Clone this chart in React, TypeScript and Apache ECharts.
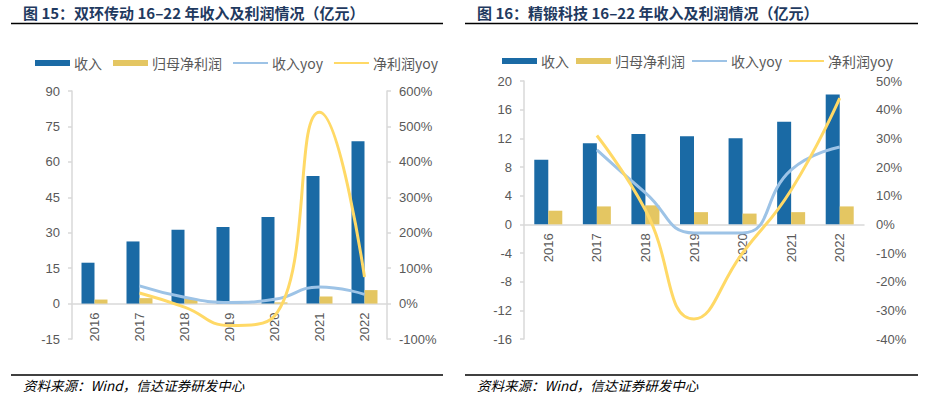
import React, { useEffect, useRef } from "react";
import * as echarts from "echarts";

const years = ["2016", "2017", "2018", "2019", "2020", "2021", "2022"];

// 双环传动
const shRevenue = [17.3, 26.3, 31.3, 32.4, 36.7, 54.0, 68.7];
const shProfit = [1.7, 2.3, 2.0, 0.8, 0.5, 3.0, 5.7];
const shRevYoy = [null, 50, 18, 3, 12, 47, 26];
const shProfitYoy = [null, 30, -10, -62, -35, 540, 75];

// 精锻科技
const jdRevenue = [9.0, 11.3, 12.6, 12.3, 12.0, 14.3, 18.1];
const jdProfit = [1.9, 2.5, 2.65, 1.7, 1.5, 1.7, 2.5];
const jdRevYoy = [null, 26, 11, -3, -3, 19, 27];
const jdProfitYoy = [null, 31, 5, -33, -10, 12, 44];

const seriesNames = ["收入", "归母净利润", "收入yoy", "净利润yoy"];
const sourceText = "资料来源：Wind，信达证券研发中心";

const C_BLUE = "#1A6AA5";
const C_GOLD = "#E4C662";
const C_LBLUE = "#9DC3E6";
const C_YELLOW = "#FFD966";
const C_AXIS = "#D9D9D9";
const C_LABEL = "#595959";
const NUM_FONT = "'Liberation Sans', Arial, sans-serif";
const CJK_FONT = "'Noto Sans CJK SC', sans-serif";
const LINE_ICON = "path://M0,0H35V2H0Z";

type Cfg = {
  title: string;
  titleX: number;
  ruleX1: number;
  ruleX2: number;
  legendLeft: number;
  legendTop: number;
  legendGap: number;
  grid: { left: number; top: number; width: number; height: number };
  barWidth: number;
  left: { min: number; max: number; interval: number };
  right: { min: number; max: number; interval: number };
  rightAxisLine: boolean;
  revenue: number[];
  profit: number[];
  revYoy: (number | null)[];
  profitYoy: (number | null)[];
};

function buildOption(c: Cfg) {
  // move the category axis up to where the left value axis crosses zero
  const zeroOffset = -(c.grid.height * (0 - c.left.min)) / (c.left.max - c.left.min);
  return {
    animation: false,
    legend: {
      left: c.legendLeft,
      top: c.legendTop,
      padding: 0,
      itemWidth: 35,
      itemHeight: 6,
      itemGap: c.legendGap,
      data: [
        { name: seriesNames[0], icon: "rect" },
        { name: seriesNames[1], icon: "rect" },
        { name: seriesNames[2], icon: LINE_ICON },
        { name: seriesNames[3], icon: LINE_ICON },
      ],
      textStyle: { color: C_LABEL, fontSize: 14, fontFamily: CJK_FONT, padding: [0, 0, 0, -1] },
    },
    grid: { ...c.grid, containLabel: false },
    xAxis: {
      type: "category",
      data: years,
      position: "bottom",
      offset: zeroOffset,
      axisLine: { onZero: false, lineStyle: { color: C_AXIS, width: 1.5 } },
      axisTick: { show: false },
      axisLabel: {
        rotate: 90,
        margin: 9,
        color: C_LABEL,
        fontSize: 13,
        fontFamily: NUM_FONT,
      },
    },
    yAxis: [
      {
        type: "value",
        min: c.left.min,
        max: c.left.max,
        interval: c.left.interval,
        axisLine: { show: true, lineStyle: { color: C_AXIS, width: 1.5 } },
        axisTick: { show: true, length: 4, lineStyle: { color: C_AXIS, width: 1.5 } },
        splitLine: { show: false },
        axisLabel: { color: C_LABEL, fontSize: 13, fontFamily: NUM_FONT, margin: 12 },
      },
      {
        type: "value",
        min: c.right.min,
        max: c.right.max,
        interval: c.right.interval,
        axisLine: { show: c.rightAxisLine, lineStyle: { color: C_AXIS, width: 1.5 } },
        axisTick: { show: c.rightAxisLine, length: 4, lineStyle: { color: C_AXIS, width: 1.5 } },
        splitLine: { show: false },
        axisLabel: {
          color: C_LABEL,
          fontSize: 13,
          fontFamily: NUM_FONT,
          margin: 12,
          formatter: "{value}%",
        },
      },
    ],
    series: [
      {
        name: seriesNames[0],
        type: "bar",
        data: c.revenue,
        barWidth: c.barWidth,
        barGap: "0%",
        itemStyle: { color: C_BLUE },
      },
      {
        name: seriesNames[1],
        type: "bar",
        data: c.profit,
        barWidth: c.barWidth,
        barGap: "0%",
        itemStyle: { color: C_GOLD },
      },
      {
        name: seriesNames[2],
        type: "line",
        yAxisIndex: 1,
        data: c.revYoy,
        smooth: true,
        symbol: "none",
        lineStyle: { color: C_LBLUE, width: 3 },
        itemStyle: { color: C_LBLUE },
      },
      {
        name: seriesNames[3],
        type: "line",
        yAxisIndex: 1,
        data: c.profitYoy,
        smooth: true,
        symbol: "none",
        lineStyle: { color: C_YELLOW, width: 3 },
        itemStyle: { color: C_YELLOW },
      },
    ],
    graphic: [
      {
        type: "text",
        x: c.titleX,
        y: 12,
        style: {
          text: c.title,
          fill: "#1F3A60",
          font: `bold 15px ${CJK_FONT}`,
          align: "left",
          verticalAlign: "middle",
        },
      },
      {
        type: "line",
        shape: { x1: c.ruleX1, y1: 23.5, x2: c.ruleX2, y2: 23.5 },
        style: { stroke: "#000", lineWidth: 1.5 },
      },
      {
        type: "line",
        shape: { x1: c.ruleX1, y1: 375, x2: c.ruleX2, y2: 375 },
        style: { stroke: "#000", lineWidth: 1.5 },
      },
      {
        type: "text",
        x: c.titleX,
        y: 385,
        style: {
          text: sourceText,
          fill: "#000",
          font: `italic 13.5px ${CJK_FONT}`,
          align: "left",
          verticalAlign: "middle",
        },
      },
    ],
  };
}

const leftCfg: Cfg = {
  title: "图 15：双环传动 16–22 年收入及利润情况（亿元）",
  titleX: 23,
  ruleX1: 11,
  ruleX2: 443,
  legendLeft: 35,
  legendTop: 56,
  legendGap: 11,
  grid: { left: 72, top: 91, width: 315, height: 248 },
  barWidth: 13,
  left: { min: -15, max: 90, interval: 15 },
  right: { min: -100, max: 600, interval: 100 },
  rightAxisLine: true,
  revenue: shRevenue,
  profit: shProfit,
  revYoy: shRevYoy,
  profitYoy: shProfitYoy,
};

const rightCfg: Cfg = {
  title: "图 16：精锻科技 16–22 年收入及利润情况（亿元）",
  titleX: 12,
  ruleX1: 0,
  ruleX2: 453,
  legendLeft: 37,
  legendTop: 54,
  legendGap: 7,
  grid: { left: 59, top: 81, width: 340, height: 258 },
  barWidth: 14,
  left: { min: -16, max: 20, interval: 4 },
  right: { min: -40, max: 50, interval: 10 },
  rightAxisLine: false,
  revenue: jdRevenue,
  profit: jdProfit,
  revYoy: jdRevYoy,
  profitYoy: jdProfitYoy,
};

function Panel({ cfg, x }: { cfg: Cfg; x: number }) {
  const ref = useRef<HTMLDivElement>(null);
  useEffect(() => {
    if (!ref.current) return;
    const chart = echarts.init(ref.current, undefined, { renderer: "svg" });
    chart.setOption(buildOption(cfg));
    return () => chart.dispose();
  }, [cfg]);
  return (
    <div
      ref={ref}
      style={{ position: "absolute", left: x, top: 0, width: 465, height: 396 }}
    />
  );
}

export default function App() {
  return (
    <div
      style={{
        position: "absolute",
        left: 0,
        top: 0,
        width: 930,
        height: 396,
        background: "#fff",
      }}
    >
      <Panel cfg={leftCfg} x={0} />
      <Panel cfg={rightCfg} x={465} />
    </div>
  );
}
